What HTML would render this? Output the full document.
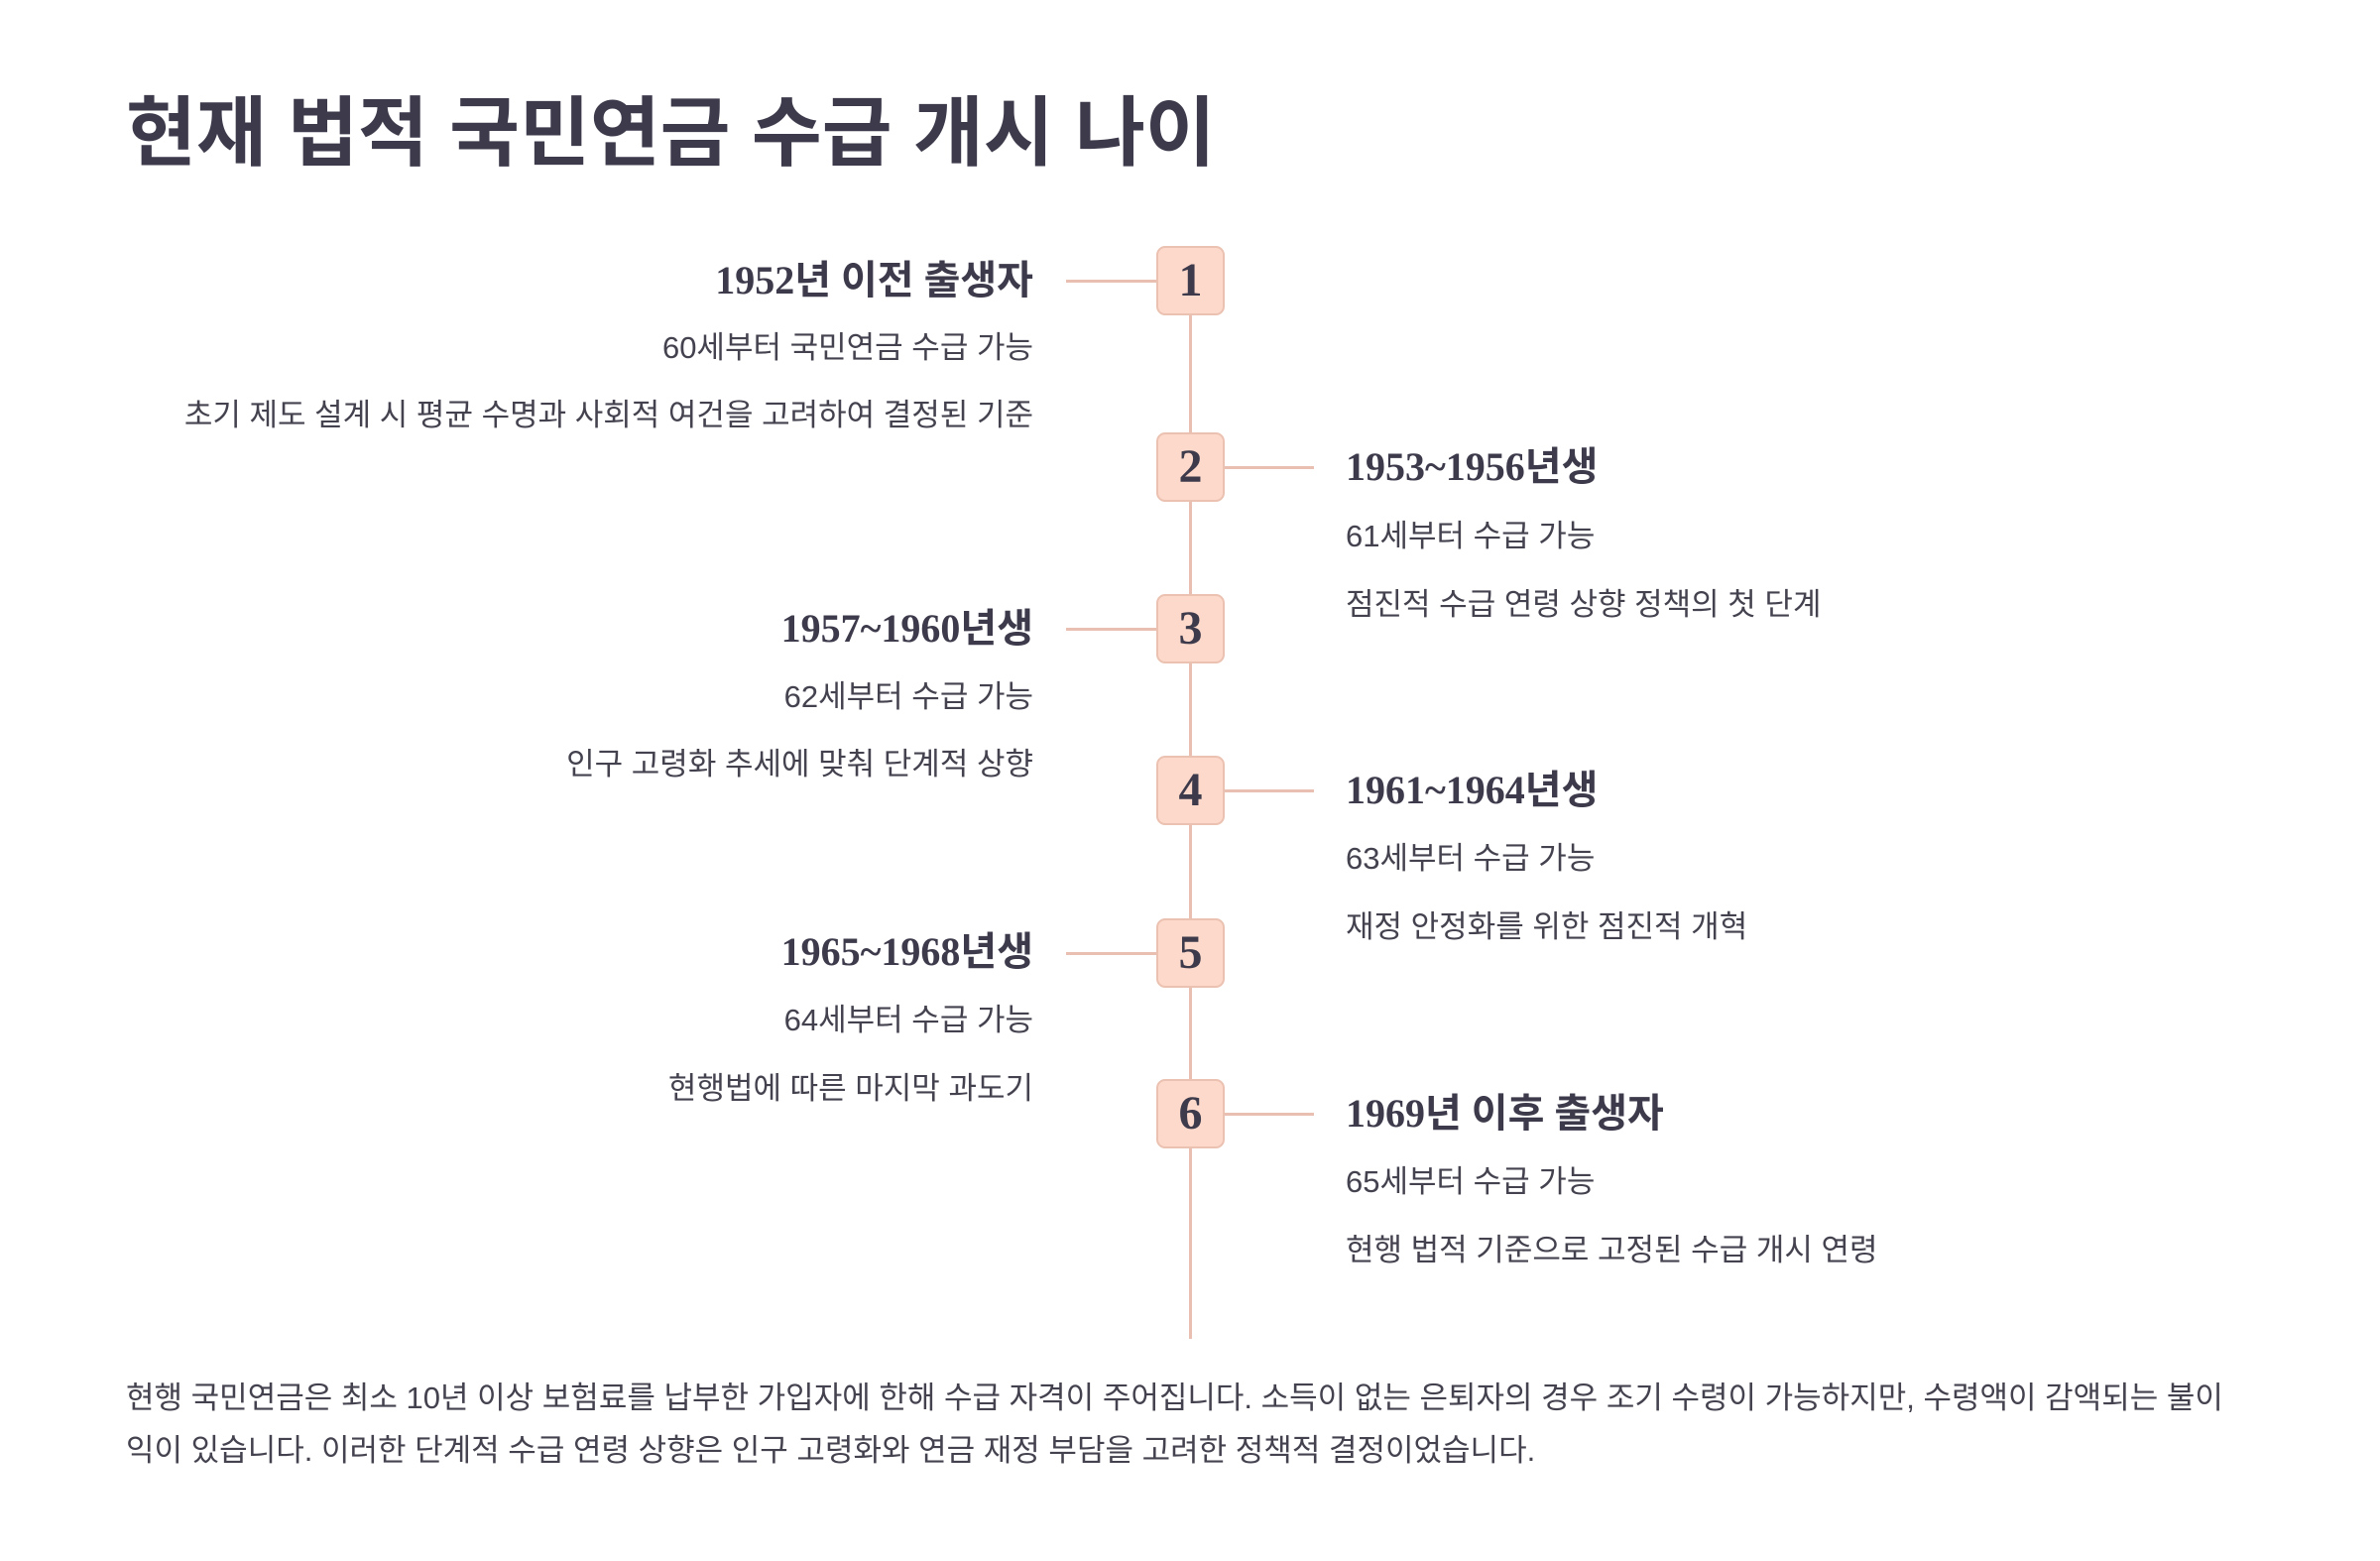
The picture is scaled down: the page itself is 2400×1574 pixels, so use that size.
<!DOCTYPE html>
<html><head><meta charset="utf-8"><style>
body{margin:0;width:2400px;height:1574px;background:#fff;position:relative;overflow:hidden;color:#3d3a4b;font-family:"Liberation Sans","Noto Sans CJK KR",sans-serif}
.t{position:absolute;white-space:nowrap;line-height:50px}
.h{font-family:"Liberation Serif","Noto Sans CJK KR",serif;font-weight:bold;font-size:40px}
.b{font-size:31px;color:#45424f}
.L{right:1358px;text-align:right}
.R{left:1357px}
.box{position:absolute;left:1166px;width:69px;height:70px;background:#fdd9cb;border:2px solid #ebc1b1;border-radius:9px;box-sizing:border-box;font-family:"Liberation Serif",serif;font-weight:bold;font-size:48px;line-height:66px;text-align:center;color:#3d3a4b}
.hl{position:absolute;height:3px;background:#e8bfb0}
</style></head><body>
<div class="t" style="left:127px;top:85px;font-size:77px;font-weight:bold;line-height:100px">현재 법적 국민연금 수급 개시 나이</div>
<div style="position:absolute;left:1199px;top:283px;width:3px;height:1067px;background:#e8bfb0"></div>

<div class="hl" style="left:1075px;width:100px;top:282px"></div>
<div class="hl" style="left:1225px;width:100px;top:470px"></div>
<div class="hl" style="left:1075px;width:100px;top:633px"></div>
<div class="hl" style="left:1225px;width:100px;top:796px"></div>
<div class="hl" style="left:1075px;width:100px;top:960px"></div>
<div class="hl" style="left:1225px;width:100px;top:1122px"></div>

<div class="box" style="top:248px">1</div>
<div class="box" style="top:436px">2</div>
<div class="box" style="top:599px">3</div>
<div class="box" style="top:762px">4</div>
<div class="box" style="top:926px">5</div>
<div class="box" style="top:1088px">6</div>

<div class="t h L" style="top:258px">1952년 이전 출생자</div>
<div class="t b L" style="top:326px">60세부터 국민연금 수급 가능</div>
<div class="t b L" style="top:394px">초기 제도 설계 시 평균 수명과 사회적 여건을 고려하여 결정된 기준</div>

<div class="t h R" style="top:446px">1953~1956년생</div>
<div class="t b R" style="top:516px">61세부터 수급 가능</div>
<div class="t b R" style="top:585px">점진적 수급 연령 상향 정책의 첫 단계</div>

<div class="t h L" style="top:609px">1957~1960년생</div>
<div class="t b L" style="top:678px">62세부터 수급 가능</div>
<div class="t b L" style="top:746px">인구 고령화 추세에 맞춰 단계적 상향</div>

<div class="t h R" style="top:772px">1961~1964년생</div>
<div class="t b R" style="top:841px">63세부터 수급 가능</div>
<div class="t b R" style="top:910px">재정 안정화를 위한 점진적 개혁</div>

<div class="t h L" style="top:935px">1965~1968년생</div>
<div class="t b L" style="top:1004px">64세부터 수급 가능</div>
<div class="t b L" style="top:1073px">현행법에 따른 마지막 과도기</div>

<div class="t h R" style="top:1098px">1969년 이후 출생자</div>
<div class="t b R" style="top:1167px">65세부터 수급 가능</div>
<div class="t b R" style="top:1236px">현행 법적 기준으로 고정된 수급 개시 연령</div>

<div class="t b" style="left:127px;top:1383px;width:2140px;white-space:normal;line-height:53px">현행 국민연금은 최소 10년 이상 보험료를 납부한 가입자에 한해 수급 자격이 주어집니다. 소득이 없는 은퇴자의 경우 조기 수령이 가능하지만, 수령액이 감액되는 불이익이 있습니다. 이러한 단계적 수급 연령 상향은 인구 고령화와 연금 재정 부담을 고려한 정책적 결정이었습니다.</div>
</body></html>
